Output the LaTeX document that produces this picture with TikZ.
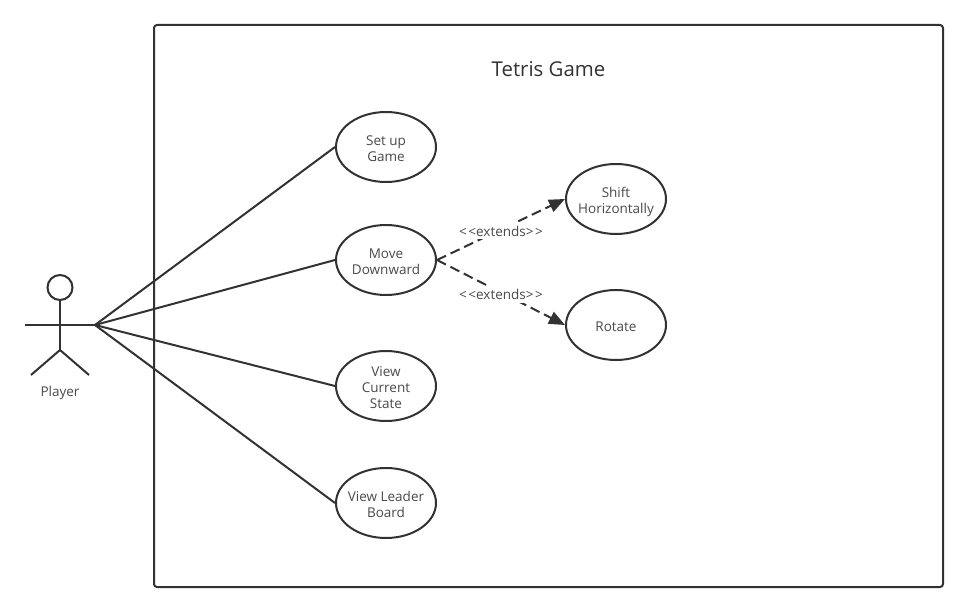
\documentclass[tikz,border=0pt]{standalone}
\usepackage{fontspec}
\setmainfont{Open Sans}
\usepackage{xcolor}
\usetikzlibrary{shapes.geometric, arrows.meta, positioning}
\definecolor{umlLine}{HTML}{323232}
\definecolor{umlText}{HTML}{4A4A4A}
\newcommand{\capstrut}{\rule{0pt}{13.5pt}}

\begin{document}
\begin{tikzpicture}[
    x=1pt, y=-1pt,
    usecase/.style={ellipse, draw=umlLine, fill=white, line width=2pt, inner xsep=-20pt, inner ysep=-12pt,
                    minimum width=100pt, minimum height=70pt, align=center, text depth=0pt,
                    font=\fontsize{13.5}{16}\selectfont, text=umlText},
    assoc/.style={draw=umlLine, line width=2pt},
    extends/.style={-{Triangle[length=16pt, width=13pt]}, draw=umlLine, line width=2pt,
                    dash pattern=on 10pt off 5pt},
    extlabel/.style={fill=white, inner sep=0pt, minimum height=17pt, font=\fontsize{13.5}{16}\selectfont, text=umlText},
]
\useasboundingbox (0,0) rectangle (968,612);

% System boundary
\node[draw=umlLine, line width=2pt, rounded corners=3pt, minimum width=789pt, minimum height=562pt,
      inner sep=0pt] (system) at (548.5,306) {};
\node[font=\fontsize{20.4}{24}\selectfont, text=umlLine] (title) at (548.5,69) {Tetris Game};

% Actor
\node[circle, draw=umlLine, line width=2pt, minimum size=25pt, inner sep=0pt] (head) at (60,287.5) {};
\coordinate (hip) at (60,350);
\coordinate (armL) at (25,325);
\coordinate (armR) at (95,325);
\coordinate (legL) at (31,375);
\coordinate (legR) at (89,375);
\draw[assoc] (head) -- (hip);
\draw[assoc] (armL) -- (armR);
\draw[assoc] (legL) -- (hip) -- (legR);
\node[font=\fontsize{13.5}{16}\selectfont, text=umlText] (player) at (60,393) {Player};

% Use cases
\node[usecase] (setup) at (386,147) {\capstrut Set up\\Game};
\node[usecase] (move) at (386,260) {\capstrut Move\\Downward};
\node[usecase] (view) at (386,386) {\capstrut View\\Current\\State};
\node[usecase] (leader) at (386,503) {\capstrut View Leader\\Board};
\node[usecase] (shift) at (616,199) {\capstrut Shift\\Horizontally};
\node[usecase] (rotate) at (616,325) {\capstrut Rotate};

\draw[assoc] (armR) -- (setup.west);
\draw[assoc] (armR) -- (move.west);
\draw[assoc] (armR) -- (view.west);
\draw[assoc] (armR) -- (leader.west);

% Extensions
\draw[extends] (move.east) -- (shift.west);
\draw[extends] (move.east) -- (rotate.west);
\node[extlabel] (extShift) at (501,231) {<\kern1.5pt<extends>\kern1.5pt>};
\node[extlabel] (extRotate) at (501,294) {<\kern1.5pt<extends>\kern1.5pt>};
\end{tikzpicture}
\end{document}
